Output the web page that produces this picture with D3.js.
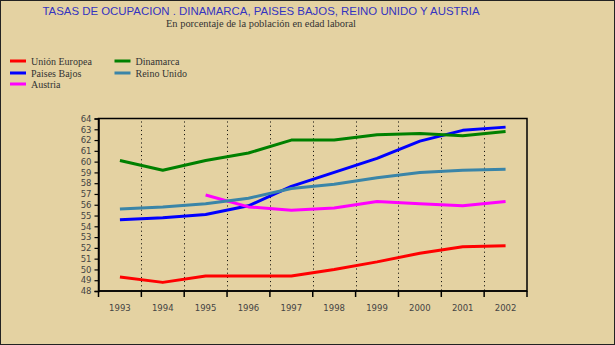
<!DOCTYPE html>
<html>
<head>
<meta charset="utf-8">
<script src="https://cdn.jsdelivr.net/npm/d3@7"></script>
<style>
  html, body { margin: 0; padding: 0; background: #E4D2A2; }
  svg { display: block; }
</style>
</head>
<body>
<svg id="chart" width="615" height="345"></svg>
<script>
// Employment rates, % of working-age population
const years = ["1993","1994","1995","1996","1997","1998","1999","2000","2001","2002"];
const unionEuropea = [49.3, 48.8, 49.4, 49.4, 49.4, 50.0, 50.7, 51.5, 52.1, 52.2];
const paisesBajos  = [54.6, 54.8, 55.1, 55.9, 57.7, 59.0, 60.3, 61.9, 62.9, 63.2];
const austria      = [null, null, 56.9, 55.8, 55.5, 55.7, 56.3, 56.1, 55.9, 56.3];
const dinamarca    = [60.1, 59.2, 60.1, 60.8, 62.0, 62.0, 62.5, 62.6, 62.4, 62.8];
const reinoUnido   = [55.6, 55.8, 56.1, 56.6, 57.5, 57.9, 58.5, 59.0, 59.2, 59.3];
const yTicks = d3.range(48, 65, 1);

const series = [
  { name: "Unión Europea", values: unionEuropea, color: "#FF0000" },
  { name: "Paises Bajos",  values: paisesBajos,  color: "#0000FF" },
  { name: "Austria",       values: austria,      color: "#FF00FF" },
  { name: "Dinamarca",     values: dinamarca,    color: "#008000" },
  { name: "Reino Unido",   values: reinoUnido,   color: "#3A85A8" }
];

const svg = d3.select("#chart");
const W = 615, H = 345;
const plot = { left: 98.5, right: 527, top: 118.5, bottom: 291 };

// outer frame
svg.append("rect").attr("x", 0.5).attr("y", 0.5).attr("width", W - 1).attr("height", H - 1)
  .attr("fill", "#E4D2A2").attr("stroke", "#222").attr("stroke-width", 1);

// titles
svg.append("text").attr("x", 261).attr("y", 14.5).attr("text-anchor", "middle")
  .attr("font-family", "Liberation Sans, Arial, sans-serif").attr("font-size", 11.5)
  .attr("fill", "#3434C0").attr("textLength", 437).attr("lengthAdjust", "spacingAndGlyphs")
  .text("TASAS DE OCUPACION .  DINAMARCA, PAISES BAJOS, REINO UNIDO Y AUSTRIA");
svg.append("text").attr("x", 261).attr("y", 26.5).attr("text-anchor", "middle")
  .attr("font-family", "Liberation Serif, serif").attr("font-size", 9.5)
  .attr("fill", "#333").attr("textLength", 190).attr("lengthAdjust", "spacingAndGlyphs")
  .text("En porcentaje de la población en edad laboral");

// legend
const legendPos = [
  { x: 10, y: 61 }, { x: 10, y: 73 }, { x: 10, y: 84 },
  { x: 114.5, y: 61 }, { x: 114.5, y: 73 }
];
series.forEach((s, i) => {
  const p = legendPos[i];
  svg.append("line").attr("x1", p.x).attr("x2", p.x + 16).attr("y1", p.y).attr("y2", p.y)
    .attr("stroke", s.color).attr("stroke-width", 3);
  svg.append("text").attr("x", p.x + 21).attr("y", p.y + 3.5)
    .attr("font-family", "Liberation Serif, serif").attr("font-size", 10)
    .attr("fill", "#333").text(s.name);
});

// scales
const x = d3.scaleBand().domain(years).range([plot.left, plot.right]).padding(0);
const y = d3.scaleLinear().domain([48, 64]).range([plot.bottom, plot.top]);
const cx = d => x(d) + x.bandwidth() / 2;

// dotted year separators
svg.append("g").selectAll("line").data(years.slice(1)).join("line")
  .attr("x1", d => Math.round(x(d)) + 0.5).attr("x2", d => Math.round(x(d)) + 0.5)
  .attr("y1", plot.top + 3).attr("y2", plot.bottom)
  .attr("stroke", "#000").attr("stroke-width", 1).attr("stroke-dasharray", "1,3.2");

// plot frame
svg.append("rect").attr("x", plot.left).attr("y", plot.top)
  .attr("width", plot.right - plot.left).attr("height", plot.bottom - plot.top)
  .attr("fill", "none").attr("stroke", "#000").attr("stroke-width", 1.5);

// y axis
const yAxis = svg.append("g").attr("transform", `translate(${plot.left},0)`)
  .call(d3.axisLeft(y).tickValues(yTicks).tickSize(4).tickPadding(3).tickFormat(d3.format("d")));
yAxis.select(".domain").attr("stroke", "#000").attr("stroke-width", 1.5);
yAxis.selectAll(".tick line").attr("stroke", "#000").attr("stroke-width", 1.2);
yAxis.selectAll(".tick text").attr("font-family", "DejaVu Sans, sans-serif")
  .attr("font-size", 8.5).attr("fill", "#444");

// x axis: ticks on year boundaries, labels centred in each year
const xAxis = svg.append("g").attr("transform", `translate(0,${plot.bottom})`);
const boundaries = years.map(d => x(d)).concat([plot.right]);
xAxis.selectAll("line").data(boundaries).join("line")
  .attr("x1", d => d).attr("x2", d => d).attr("y1", 0).attr("y2", 6)
  .attr("stroke", "#000").attr("stroke-width", 1.5);
xAxis.append("line").attr("x1", plot.left).attr("x2", plot.right).attr("y1", 0).attr("y2", 0)
  .attr("stroke", "#000").attr("stroke-width", 1.5);
xAxis.selectAll("text").data(years).join("text")
  .attr("x", d => cx(d)).attr("y", 20).attr("text-anchor", "middle")
  .attr("font-family", "DejaVu Sans, sans-serif").attr("font-size", 8.5)
  .attr("fill", "#444").text(d => d);

// series lines
const line = d3.line()
  .defined(d => d.v !== null)
  .x(d => cx(d.year))
  .y(d => y(d.v));
series.forEach(s => {
  const pts = years.map((yr, i) => ({ year: yr, v: s.values[i] }));
  svg.append("path").datum(pts).attr("d", line)
    .attr("fill", "none").attr("stroke", s.color).attr("stroke-width", 3)
    .attr("stroke-linejoin", "round");
});
</script>
</body>
</html>
